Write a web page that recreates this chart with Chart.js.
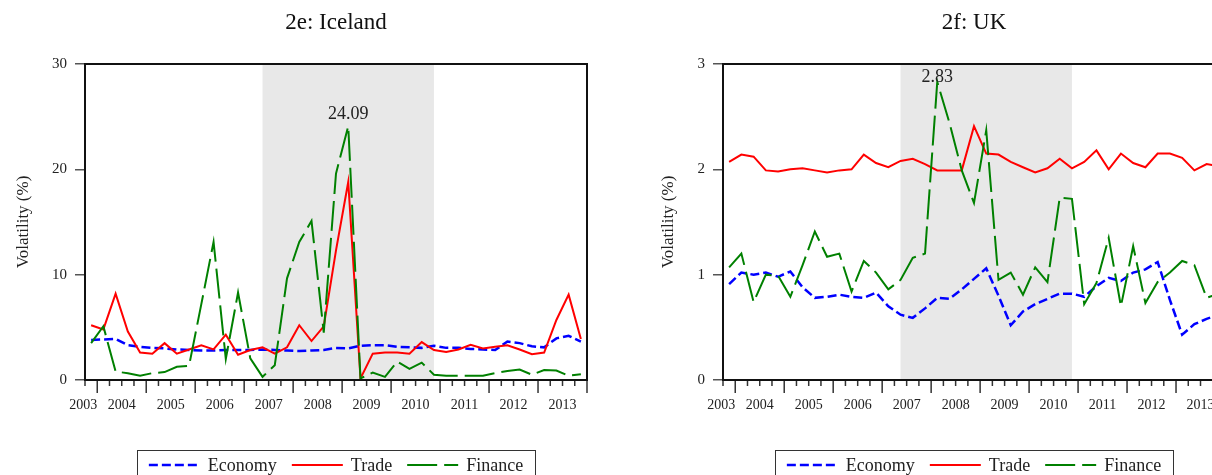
<!DOCTYPE html>
<html>
<head>
<meta charset="utf-8">
<title>Volatility: Iceland and UK</title>
<script src="https://cdn.jsdelivr.net/npm/chart.js@4.4.1/dist/chart.umd.min.js"></script>
<style>
  html, body { margin: 0; padding: 0; background: #fff; overflow: hidden; }
  #wrap { position: relative; width: 1212px; height: 475px; overflow: hidden; }
  canvas { position: absolute; top: 0; }
  #iceland { left: 0; }
  #uk { left: 638px; }
</style>
</head>
<body>
<div id="wrap">
  <canvas id="iceland" width="672" height="475"></canvas>
  <canvas id="uk" width="672" height="475"></canvas>
</div>
<script>
// quarterly observations, 2003Q4 - 2013Q4
const quarters = [
  '2003Q4',
  '2004Q1', '2004Q2', '2004Q3', '2004Q4',
  '2005Q1', '2005Q2', '2005Q3', '2005Q4',
  '2006Q1', '2006Q2', '2006Q3', '2006Q4',
  '2007Q1', '2007Q2', '2007Q3', '2007Q4',
  '2008Q1', '2008Q2', '2008Q3', '2008Q4',
  '2009Q1', '2009Q2', '2009Q3', '2009Q4',
  '2010Q1', '2010Q2', '2010Q3', '2010Q4',
  '2011Q1', '2011Q2', '2011Q3', '2011Q4',
  '2012Q1', '2012Q2', '2012Q3', '2012Q4',
  '2013Q1', '2013Q2', '2013Q3', '2013Q4'
];
const years = ['2003', '2004', '2005', '2006', '2007', '2008', '2009', '2010', '2011', '2012', '2013'];

// grey band (crisis period)
const crisisStart = '2007Q2';
const crisisEnd = '2010Q4';

// 2e: Iceland
const icelandEconomy = [3.8, 3.85, 3.9, 3.3, 3.15, 3.05, 3.0, 2.9, 2.85, 2.8, 2.8, 2.85, 2.85, 2.85, 2.9, 2.85, 2.8, 2.75, 2.8, 2.85, 3.05,
  3.0, 3.25, 3.3, 3.3, 3.15, 3.1, 3.05, 3.25, 3.05, 3.05, 2.95, 2.9, 2.85, 3.65, 3.5, 3.2, 3.1, 3.95, 4.2, 3.65];
const icelandTrade = [5.2, 4.8, 8.2, 4.6, 2.6, 2.5, 3.5, 2.5, 2.9, 3.3, 2.9, 4.3, 2.4, 2.85, 3.1, 2.5, 3.1, 5.2, 3.7, 5.1, 12.3,
  18.8, 0.15, 2.5, 2.6, 2.6, 2.5, 3.6, 2.85, 2.65, 2.9, 3.35, 3.0, 3.15, 3.3, 2.9, 2.45, 2.6, 5.7, 8.1, 3.9];
const icelandFinance = [3.5, 5.1, 0.8, 0.65, 0.4, 0.65, 0.75, 1.25, 1.35, 7.2, 13.1, 2.0, 8.3, 2.05, 0.3, 1.4, 9.65, 13.1, 15.1, 4.5, 19.6,
  24.09, 0.15, 0.7, 0.3, 1.75, 1.05, 1.65, 0.5, 0.4, 0.4, 0.4, 0.4, 0.65, 0.85, 1.0, 0.5, 0.95, 0.9, 0.4, 0.55];

// 2f: UK
const ukEconomy = [0.91, 1.02, 1.0, 1.02, 0.98, 1.03, 0.88, 0.78, 0.79, 0.81, 0.79, 0.78, 0.83, 0.7, 0.62, 0.59, 0.68, 0.78, 0.77, 0.86, 0.96,
  1.06, 0.8, 0.52, 0.65, 0.72, 0.77, 0.82, 0.82, 0.79, 0.89, 0.97, 0.94, 1.02, 1.05, 1.12, 0.76, 0.43, 0.53, 0.58, 0.62];
const ukTrade = [2.07, 2.14, 2.12, 1.99, 1.98, 2.0, 2.01, 1.99, 1.97, 1.99, 2.0, 2.14, 2.06, 2.02, 2.08, 2.1, 2.05, 1.99, 1.99, 1.99, 2.41,
  2.15, 2.14, 2.07, 2.02, 1.97, 2.01, 2.1, 2.01, 2.07, 2.18, 2.0, 2.15, 2.06, 2.02, 2.15, 2.15, 2.11, 1.99, 2.05, 2.03];
const ukFinance = [1.07, 1.2, 0.74, 1.0, 0.99, 0.79, 1.09, 1.41, 1.17, 1.2, 0.84, 1.13, 1.02, 0.86, 0.95, 1.16, 1.2, 2.83, 2.44, 1.99, 1.68,
  2.37, 0.95, 1.02, 0.81, 1.07, 0.93, 1.73, 1.72, 0.72, 0.92, 1.35, 0.7, 1.27, 0.73, 0.93, 1.02, 1.13, 1.09, 0.78, 0.82];

const serif = "'Liberation Serif', 'Times New Roman', serif";
const ink = '#222';

// shading, frame, quarter ticks, year labels, peak value, boxed legend
const eviewsLook = {
  id: 'eviewsLook',
  beforeDatasetsDraw(chart) {
    const { ctx, chartArea: a, scales: { x } } = chart;
    const x0 = x.getPixelForValue(quarters.indexOf(crisisStart));
    const x1 = x.getPixelForValue(quarters.indexOf(crisisEnd));
    ctx.save();
    ctx.fillStyle = '#e8e8e8';
    ctx.fillRect(x0, a.top, x1 - x0, a.bottom - a.top);
    ctx.restore();
  },
  afterDatasetsDraw(chart) {
    const { ctx, chartArea: a, scales: { x, y } } = chart;
    ctx.save();

    // quarter ticks under the axis, longer at year boundaries
    ctx.strokeStyle = '#333';
    ctx.lineWidth = 1.5;
    for (let b = 0; b <= quarters.length; b++) {
      const px = x.getPixelForValue(b - 0.5);
      const major = b === quarters.length || quarters[b].endsWith('Q1');
      ctx.beginPath();
      ctx.moveTo(px, a.bottom);
      ctx.lineTo(px, a.bottom + (major ? 13 : 6));
      ctx.stroke();
    }

    // year labels centred on each year
    ctx.font = `14px ${serif}`;
    ctx.fillStyle = ink;
    ctx.textAlign = 'center';
    ctx.textBaseline = 'alphabetic';
    years.forEach(yr => {
      const idx = quarters.map((q, i) => q.startsWith(yr) ? i : -1).filter(i => i >= 0);
      const l = x.getPixelForValue(idx[0] - 0.5);
      const r = x.getPixelForValue(idx[idx.length - 1] + 0.5);
      const w = ctx.measureText(yr).width;
      ctx.fillText(yr, Math.min((l + r) / 2, r - w / 2), a.bottom + 29);
    });

    // frame
    ctx.strokeStyle = '#111';
    ctx.lineWidth = 2;
    ctx.strokeRect(a.left, a.top, a.right - a.left, a.bottom - a.top);

    // peak of the finance series
    const fin = chart.data.datasets[2].data;
    const peak = Math.max(...fin);
    const pi = fin.indexOf(peak);
    const px = x.getPixelForValue(pi);
    const py = y.getPixelForValue(peak);
    ctx.font = `18px ${serif}`;
    ctx.fillText(peak.toFixed(2), px, Math.max(py - 7, a.top + 18));
    ctx.restore();
  },
  afterDraw(chart) {
    const { ctx, chartArea: a } = chart;
    const sample = 51, gapText = 8, gapItem = 15, pad = 12;
    ctx.save();
    ctx.font = `18px ${serif}`;
    const items = chart.data.datasets.map(ds => ({ ds, w: ctx.measureText(ds.label).width }));
    const total = items.reduce((s, it) => s + sample + gapText + it.w, 0) + gapItem * (items.length - 1);
    const boxL = (a.left + a.right) / 2 - total / 2 - pad;
    const boxT = a.bottom + 70.5;
    ctx.strokeStyle = '#333';
    ctx.lineWidth = 1;
    ctx.strokeRect(Math.round(boxL) + 0.5, boxT, Math.round(total + 2 * pad), 40);

    let lx = boxL + pad;
    const ly = a.bottom + 85;
    items.forEach(it => {
      ctx.beginPath();
      ctx.setLineDash(it.ds.borderDash || []);
      ctx.strokeStyle = it.ds.borderColor;
      ctx.lineWidth = it.ds.borderWidth;
      ctx.moveTo(lx, ly);
      ctx.lineTo(lx + sample, ly);
      ctx.stroke();
      ctx.setLineDash([]);
      lx += sample + gapText;
      ctx.fillStyle = ink;
      ctx.textAlign = 'left';
      ctx.textBaseline = 'alphabetic';
      ctx.fillText(it.ds.label, lx, a.bottom + 91);
      lx += it.w + gapItem;
    });
    ctx.restore();
  }
};

function makePanel(id, title, economy, trade, finance, yMax, yStep, yTitlePad) {
  return new Chart(document.getElementById(id), {
    type: 'line',
    data: {
      labels: quarters,
      datasets: [
        { label: 'Economy', data: economy, borderColor: '#0000ff', borderWidth: 2.5, borderDash: [9, 4], order: 3 },
        { label: 'Trade', data: trade, borderColor: '#ff0000', borderWidth: 2, order: 2 },
        { label: 'Finance', data: finance, borderColor: '#008000', borderWidth: 2, borderDash: [30, 7], order: 1 }
      ]
    },
    options: {
      responsive: false,
      animation: false,
      devicePixelRatio: 1,
      layout: { padding: { left: 0, right: 85, top: 0, bottom: 0 } },
      elements: {
        point: { radius: 0 },
        line: { tension: 0, fill: false, borderCapStyle: 'butt' }
      },
      plugins: {
        legend: { display: false },
        tooltip: { enabled: false },
        title: {
          display: true,
          text: title,
          fullSize: false,
          color: '#111',
          font: { family: serif, size: 23, weight: 'normal', lineHeight: 1.2 },
          padding: { top: 9, bottom: 27.4 }
        }
      },
      scales: {
        x: {
          type: 'category',
          offset: true,
          ticks: { display: false },
          grid: { display: false },
          border: { display: false },
          afterFit(scale) { scale.height = 95; }
        },
        y: {
          min: 0,
          max: yMax,
          ticks: { stepSize: yStep, padding: 8, color: ink, font: { family: serif, size: 15 } },
          grid: { drawOnChartArea: false, drawTicks: true, tickLength: 10, color: '#555', lineWidth: 1.5 },
          border: { display: false },
          title: {
            display: true,
            text: 'Volatility (%)',
            color: ink,
            font: { family: serif, size: 17 },
            padding: { top: yTitlePad, bottom: 0 }
          },
          afterFit(scale) { scale.width = 85; }
        }
      }
    },
    plugins: [eviewsLook]
  });
}

makePanel('iceland', '2e: Iceland', icelandEconomy, icelandTrade, icelandFinance, 30, 10, 13);
makePanel('uk', '2f: UK', ukEconomy, ukTrade, ukFinance, 3, 1, 20);
</script>
</body>
</html>
